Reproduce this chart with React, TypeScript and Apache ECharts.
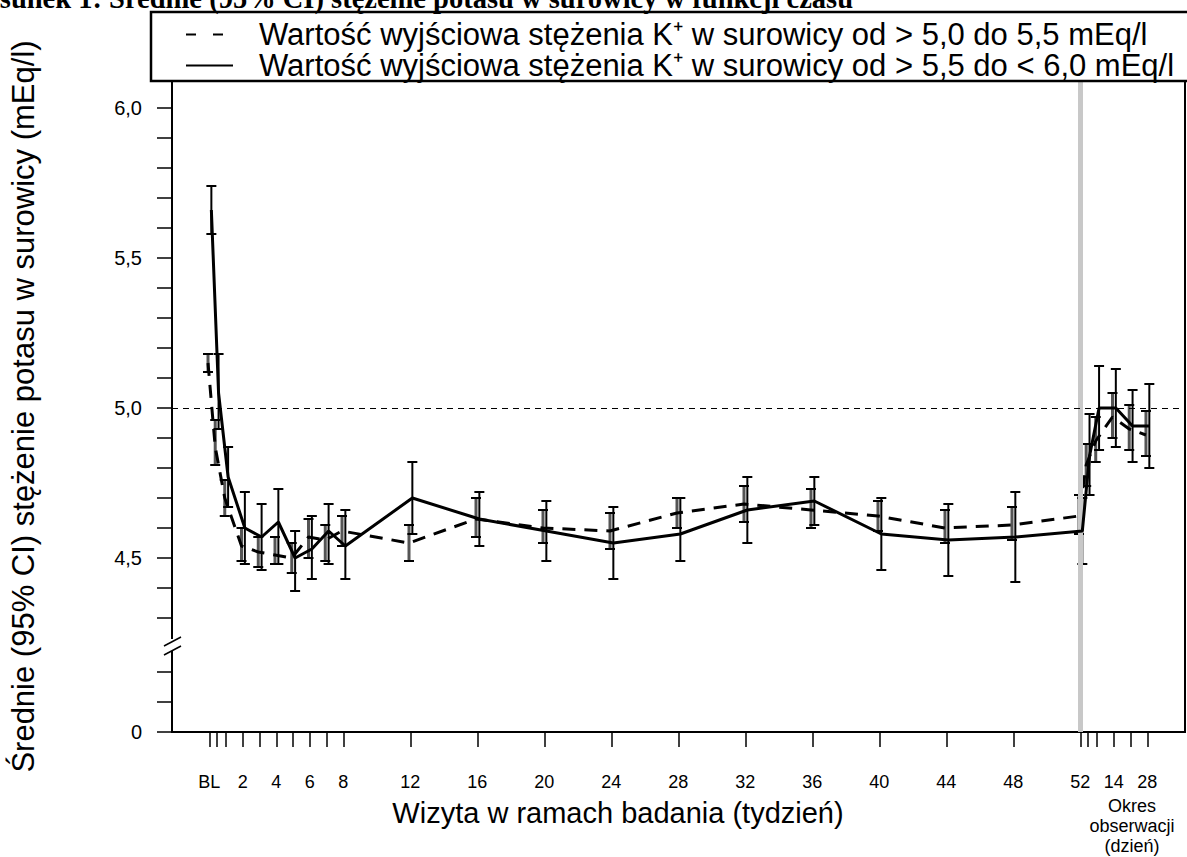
import React, { useEffect, useRef } from "react";
import * as echarts from "echarts";

const SANS = "'Liberation Sans', Arial, Helvetica, sans-serif";
const SERIF = "'Liberation Serif', 'Times New Roman', serif";

// Visit positions on the week axis (BL, day 3, weeks 1..52, follow-up days 3, 7, 14, 21, 28)
const visitWeeks = [0, 0.43, 1, 2, 3, 4, 5, 6, 7, 8, 12, 16, 20, 24, 28, 32, 36, 40, 44, 48, 52, 52.43, 53, 54, 55, 56];

// Baseline K+ > 5.0 to 5.5 mEq/l (dashed)
const lowMean = [5.15, 4.87, 4.70, 4.54, 4.52, 4.51, 4.50, 4.57, 4.56, 4.59, 4.55, 4.63, 4.60, 4.59, 4.65, 4.68, 4.66, 4.64, 4.60, 4.61, 4.64, 4.81, 4.89, 4.97, 4.93, 4.91];
const lowCiLo = [5.12, 4.81, 4.64, 4.49, 4.47, 4.48, 4.45, 4.50, 4.49, 4.54, 4.49, 4.57, 4.55, 4.53, 4.60, 4.62, 4.60, 4.59, 4.55, 4.56, 4.58, 4.74, 4.82, 4.90, 4.86, 4.84];
const lowCiHi = [5.18, 4.96, 4.76, 4.60, 4.57, 4.57, 4.55, 4.63, 4.61, 4.64, 4.61, 4.70, 4.66, 4.65, 4.70, 4.74, 4.73, 4.69, 4.66, 4.67, 4.71, 4.88, 4.97, 5.05, 5.01, 4.99];

// Baseline K+ > 5.5 to < 6.0 mEq/l (solid)
const highMean = [5.66, 5.05, 4.77, 4.60, 4.57, 4.62, 4.50, 4.53, 4.59, 4.54, 4.70, 4.63, 4.59, 4.55, 4.58, 4.66, 4.69, 4.58, 4.56, 4.57, 4.59, 4.84, 5.00, 5.00, 4.94, 4.94];
const highCiLo = [5.58, 4.93, 4.67, 4.48, 4.46, 4.48, 4.39, 4.43, 4.48, 4.43, 4.58, 4.54, 4.49, 4.43, 4.49, 4.55, 4.61, 4.46, 4.44, 4.42, 4.48, 4.71, 4.86, 4.87, 4.82, 4.80];
const highCiHi = [5.74, 5.18, 4.87, 4.72, 4.68, 4.73, 4.59, 4.64, 4.68, 4.66, 4.82, 4.72, 4.69, 4.67, 4.70, 4.77, 4.77, 4.70, 4.68, 4.72, 4.70, 4.98, 5.14, 5.13, 5.06, 5.08];

const LOW_NAME = "Wartość wyjściowa stężenia K⁺ w surowicy od > 5,0 do 5,5 mEq/l";
const HIGH_NAME = "Wartość wyjściowa stężenia K⁺ w surowicy od > 5,5 do < 6,0 mEq/l";

// X axis ticks / labels
const xTickValues = visitWeeks;
const xLabelValues = [0, 2, 4, 6, 8, 12, 16, 20, 24, 28, 32, 36, 40, 44, 48, 52, 54, 56];
const xLabelText: Record<string, string> = { "0": "BL", "54": "14", "56": "28" };

// Y axis (broken): position of "0" below the break, and ticks
const Y_ZERO_POS = 3.92;
const lowerTickSteps = [0, 0.1, 0.2];
const upperTicks = [4.3, 4.4, 4.5, 4.6, 4.7, 4.8, 4.9, 5.0, 5.1, 5.2, 5.3, 5.4, 5.5, 5.6, 5.7, 5.8, 5.9, 6.0];
const yLabelValues = [4.5, 5.0, 5.5, 6.0];
const REF_LEVEL = 5.0;
const END_OF_TREATMENT = 52;

const DODGE_LOW = -0.08;
const DODGE_HIGH = 0.12;

export default function App() {
  const ref = useRef<HTMLDivElement>(null);
  useEffect(() => {
    if (!ref.current) return;
    const chart = echarts.init(ref.current, null, { renderer: "svg" });

    const lowLine = visitWeeks.map((w, i) => [w + DODGE_LOW, lowMean[i]]);
    const highLine = visitWeeks.map((w, i) => [w + DODGE_HIGH, highMean[i]]);
    const lowErr = visitWeeks.map((w, i) => [w + DODGE_LOW, lowCiLo[i], lowCiHi[i]]);
    const highErr = visitWeeks.map((w, i) => [w + DODGE_HIGH, highCiLo[i], highCiHi[i]]);

    const errRender = (stemColor: string, stemWidth: number) => (params: any, api: any) => {
      const x = api.value(0);
      const a = api.coord([x, api.value(1)]);
      const b = api.coord([x, api.value(2)]);
      const cw = 5;
      return {
        type: "group",
        children: [
          { type: "line", shape: { x1: a[0], y1: a[1], x2: b[0], y2: b[1] }, style: { stroke: stemColor, lineWidth: stemWidth } },
          { type: "line", shape: { x1: a[0] - cw, y1: a[1], x2: a[0] + cw, y2: a[1] }, style: { stroke: "#000", lineWidth: 2 } },
          { type: "line", shape: { x1: b[0] - cw, y1: b[1], x2: b[0] + cw, y2: b[1] }, style: { stroke: "#000", lineWidth: 2 } },
        ],
      };
    };

    const yTicks = [...lowerTickSteps.map((s) => +(Y_ZERO_POS + s).toFixed(2)), ...upperTicks];
    const hiddenSymbol = { color: "transparent", borderColor: "transparent", borderWidth: 0, opacity: 0 };

    const option: any = {
      animation: false,
      backgroundColor: "#fff",
      grid: { left: 172, right: 2, top: 81, bottom: 125, show: true, borderColor: "#000", borderWidth: 2, backgroundColor: "transparent" },
      legend: {
        orient: "vertical",
        left: 185,
        top: 19,
        padding: 0,
        itemWidth: 47,
        itemHeight: 14,
        itemGap: 0,
        selectedMode: false,
        textStyle: { fontFamily: SANS, fontSize: 31, color: "#000", lineHeight: 31, padding: [0, 0, 0, 21] },
        data: [
          { name: LOW_NAME, itemStyle: hiddenSymbol, lineStyle: { type: [10, 17], width: 2, color: "#000" } },
          { name: HIGH_NAME, itemStyle: hiddenSymbol, lineStyle: { type: "solid", width: 2, color: "#000" } },
        ],
      },
      xAxis: {
        type: "value",
        min: -2.23,
        max: 58.25,
        splitLine: { show: false },
        axisLine: { show: true, onZero: false, lineStyle: { color: "#000", width: 2 } },
        axisTick: { show: true, length: 15, inside: false, customValues: xTickValues, lineStyle: { color: "#000", width: 1.5 } },
        axisLabel: {
          customValues: xLabelValues,
          margin: 41,
          fontFamily: SANS,
          fontSize: 18,
          color: "#000",
          formatter: (v: number) => xLabelText[String(v)] ?? String(v),
        },
      },
      yAxis: {
        type: "value",
        min: Y_ZERO_POS,
        max: 6.09,
        splitLine: { show: false },
        axisLine: { show: true, onZero: false, lineStyle: { color: "#000", width: 2 } },
        axisTick: { show: true, length: 15, customValues: yTicks, lineStyle: { color: "#000", width: 1.5 } },
        axisLabel: {
          customValues: [Y_ZERO_POS, ...yLabelValues],
          margin: 30,
          fontFamily: SANS,
          fontSize: 20,
          color: "#000",
          formatter: (v: number) => (Math.abs(v - Y_ZERO_POS) < 1e-6 ? "0" : v.toFixed(1).replace(".", ",")),
        },
        name: "Średnie (95% CI) stężenie potasu w surowicy (mEq/l)",
        nameLocation: "middle",
        nameGap: 133,
        nameTextStyle: { fontFamily: SANS, fontSize: 31, color: "#000" },
      },
      series: [
        {
          type: "custom",
          name: "ci-low",
          renderItem: errRender("#555", 3),
          data: lowErr,
          encode: { x: 0, y: [1, 2] },
          z: 3,
        },
        {
          type: "custom",
          name: "ci-high",
          renderItem: errRender("#000", 2),
          data: highErr,
          encode: { x: 0, y: [1, 2] },
          z: 3,
        },
        {
          type: "line",
          name: LOW_NAME,
          data: lowLine,
          symbol: "none",
          showSymbol: false,
          lineStyle: { color: "#000", width: 3, type: [13, 9] },
          itemStyle: { color: "#000" },
          z: 4,
        },
        {
          type: "line",
          name: HIGH_NAME,
          data: highLine,
          symbol: "none",
          showSymbol: false,
          lineStyle: { color: "#000", width: 3, type: "solid" },
          itemStyle: { color: "#000" },
          z: 5,
          markLine: {
            silent: true,
            symbol: "none",
            label: { show: false },
            data: [
              { xAxis: END_OF_TREATMENT, lineStyle: { color: "#c8c8c8", width: 5, type: "solid" } },
              { yAxis: REF_LEVEL, lineStyle: { color: "#000", width: 1, type: [6, 5] } },
            ],
          },
        },
      ],
      graphic: [
        {
          type: "text",
          x: -34,
          y: -2,
          style: {
            text: "Rysunek 1: Średnie (95% CI) stężenie potasu w surowicy w funkcji czasu",
            font: `bold 28.5px ${SERIF}`,
            fill: "#000",
            verticalAlign: "middle",
          },
        },
        { type: "rect", shape: { x: 151, y: 12, width: 1100, height: 69 }, style: { fill: "none", stroke: "#000", lineWidth: 2.5 }, z: 10 },
        {
          type: "text",
          x: 618,
          y: 813,
          style: { text: "Wizyta w ramach badania (tydzień)", font: `29px ${SANS}`, fill: "#000", align: "center", verticalAlign: "middle" },
        },
        {
          type: "text",
          x: 1132,
          y: 796,
          style: { text: "Okres\nobserwacji\n(dzień)", font: `18px ${SANS}`, lineHeight: 20, fill: "#000", align: "center", verticalAlign: "top" },
        },
        { type: "rect", shape: { x: 168, y: 639, width: 8, height: 12 }, style: { fill: "#fff" }, z: 20 },
        { type: "line", shape: { x1: 164, y1: 646, x2: 181, y2: 637 }, style: { stroke: "#000", lineWidth: 1.5 }, z: 21 },
        { type: "line", shape: { x1: 164, y1: 655, x2: 181, y2: 646 }, style: { stroke: "#000", lineWidth: 1.5 }, z: 21 },
      ],
    };
    chart.setOption(option);
    return () => chart.dispose();
  }, []);
  return <div ref={ref} style={{ position: "fixed", left: 0, top: 0, width: 1187, height: 857, background: "#fff" }} />;
}
